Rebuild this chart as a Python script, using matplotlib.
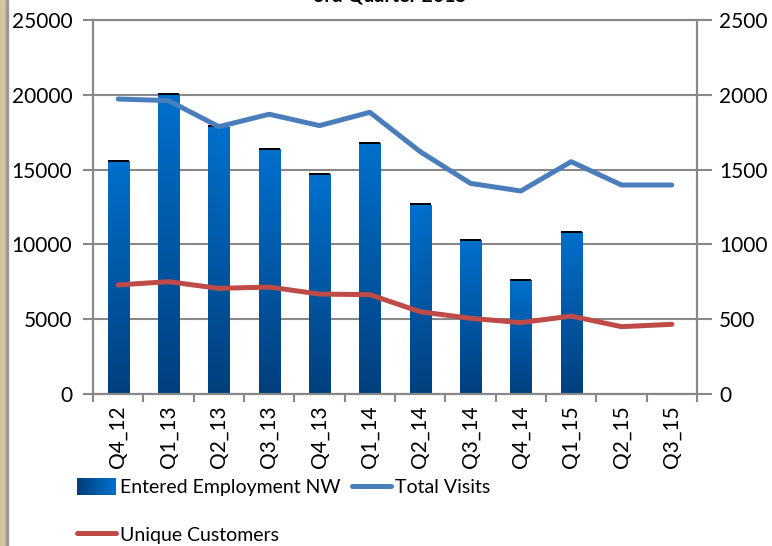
import numpy as np
import matplotlib
matplotlib.use("Agg")
import matplotlib.pyplot as plt
from matplotlib.patches import Rectangle
from matplotlib.legend_handler import HandlerBase
from matplotlib.lines import Line2D
from matplotlib.colors import LinearSegmentedColormap

plt.rcParams['font.family'] = ['Lato', 'DejaVu Sans']

quarters = ["Q4_12", "Q1_13", "Q2_13", "Q3_13", "Q4_13", "Q1_14",
            "Q2_14", "Q3_14", "Q4_14", "Q1_15", "Q2_15", "Q3_15"]
entered_employment = [15650, 20120, 17950, 16450, 14780, 16850,
                      12750, 10360, 7690, 10900, None, None]
total_visits = [1972, 1961, 1787, 1870, 1794, 1883,
                1620, 1408, 1357, 1553, 1397, 1397]
unique_customers = [729, 751, 706, 715, 668, 664,
                    550, 506, 477, 521, 450, 466]

bar_cmap = LinearSegmentedColormap.from_list("bar", ["#003F7D", "#0070CC"])
blue_line = "#4A7EBB"
red_line = "#BE4B48"
grid_col = "#888888"

fig = plt.figure(figsize=(7.72, 5.46), dpi=100)
ax = fig.add_axes([93 / 772, 1 - 394 / 546, 604 / 772, 374 / 546])
ax2 = ax.twinx()

x = np.arange(len(quarters))
w = 0.42
grad = np.linspace(0, 1, 256).reshape(-1, 1)
for xi, v in zip(x, entered_employment):
    if v is None:
        continue
    ax.imshow(grad, cmap=bar_cmap, origin="lower", aspect="auto",
              extent=[xi - w / 2, xi + w / 2, 0, v - 120], zorder=2)
    ax.bar(xi, 120, bottom=v - 120, width=w, color="black", zorder=2)

ax.set_xlim(-0.5, len(quarters) - 0.5)
ax.set_ylim(0, 25000)
ax.set_yticks(range(0, 25001, 5000))
ax.yaxis.grid(True, color=grid_col, lw=1.5, zorder=0)
ax.set_axisbelow(True)
ax.set_xticks(x)
ax.set_xticklabels(quarters, rotation=90, fontsize=15)
ax.set_xticks(np.arange(-0.5, len(quarters)), minor=True)
ax.tick_params(axis="x", which="major", length=0, pad=8)
ax.tick_params(axis="x", which="minor", length=6, width=1.5, color=grid_col)
ax.tick_params(axis="y", length=7, width=1.5, color=grid_col, labelsize=15, pad=8)

ax2.plot(x, total_visits, color=blue_line, lw=3.6, solid_capstyle="round",
         solid_joinstyle="round", zorder=3)
ax2.plot(x, unique_customers, color=red_line, lw=3.6, solid_capstyle="round",
         solid_joinstyle="round", zorder=3)
ax2.set_ylim(0, 2500)
ax2.set_yticks(range(0, 2501, 500))
ax2.tick_params(axis="y", length=11, width=1.5, color=grid_col, labelsize=15, pad=5)

for a in (ax, ax2):
    for s in a.spines.values():
        s.set_color(grid_col)
        s.set_linewidth(1.5)

# title, mostly cut off above the image
fig.text(390 / 772, 1 - 5 / 546, "3rd Quarter 2015", ha="center", va="bottom",
         fontsize=14, fontweight="bold")

# left edge strip
fig.patches.append(Rectangle((0, 0), 6 / 772, 1, transform=fig.transFigure,
                             color="#D3C5A2", zorder=0))
fig.patches.append(Rectangle((6 / 772, 0), 2 / 772, 1, transform=fig.transFigure,
                             color="#9A9A9A", zorder=0))


class GradientHandler(HandlerBase):
    def create_artists(self, legend, orig_handle, xdescent, ydescent,
                       width, height, fontsize, trans):
        n = 20
        arts = []
        for i in range(n):
            r = Rectangle((-xdescent + width * i / n, -ydescent), width / n + 0.3,
                          height, color=bar_cmap(i / (n - 1)), transform=trans, lw=0)
            arts.append(r)
        return arts


bar_handle = Rectangle((0, 0), 1, 1)
h_tv = Line2D([], [], color=blue_line, lw=3.6, solid_capstyle="round")
h_uc = Line2D([], [], color=red_line, lw=3.6, solid_capstyle="round")
leg = fig.legend([bar_handle, h_uc, h_tv],
                 ["Entered Employment NW", "Unique Customers", "Total Visits"],
                 handler_map={Rectangle: GradientHandler()},
                 loc="upper left", bbox_to_anchor=(77 / 772, 1 - 478 / 546),
                 ncol=2, frameon=False, fontsize=14, handlelength=2.0,
                 handletextpad=0.2, columnspacing=0.6, labelspacing=1.5,
                 handleheight=1.0, borderaxespad=0, borderpad=0)

fig.savefig("out.png", dpi=100)
